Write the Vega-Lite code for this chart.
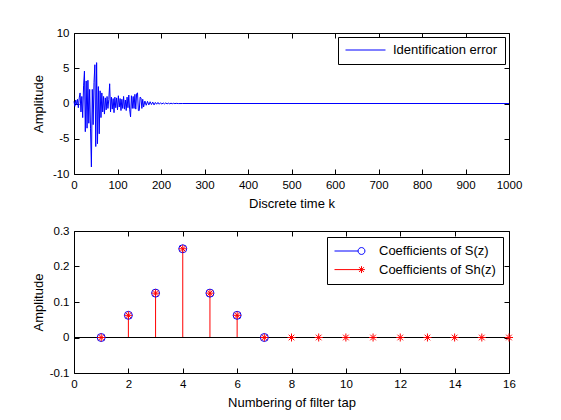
{
  "$schema": "https://vega.github.io/schema/vega-lite/v6.json",
  "background": "white",
  "padding": {"left": 31, "top": 26, "right": 0, "bottom": 0},
  "spacing": 13,
  "resolve": {"scale": {"color": "independent"}, "legend": {"color": "independent"}},
  "config": {
    "font": "Liberation Sans",
    "view": {"stroke": "black", "strokeWidth": 1},
    "axis": {
      "grid": false, "domain": false, "tickColor": "black", "tickSize": -5, "tickWidth": 1, "labelPadding": 10,
      "labelColor": "black", "labelFontSize": 11.5, "labelFont": "Liberation Sans", "labelFlush": false, "labelOverlap": false,
      "titleColor": "black", "titleFontSize": 13, "titleFont": "Liberation Sans", "titleFontWeight": "normal"
    },
    "axisX": {"titleY": 29, "titleBaseline": "middle"},
    "axisY": {"titleX": -36, "titleBaseline": "middle"},
    "legend": {"labelFont": "Liberation Sans", "labelFontSize": 13, "labelColor": "black", "strokeColor": "black", "fillColor": "white", "title": null}
  },
  "vconcat": [
    {
      "width": 435,
      "height": 141,
      "data": {"values": [
        {"k":0,"e":0.3},{"k":2,"e":-0.4},{"k":4,"e":0.5},{"k":6,"e":-0.2},{"k":8,"e":0.6},{"k":10,"e":-0.6},
        {"k":12,"e":0.8},{"k":14,"e":1.5},{"k":16,"e":-1.2},{"k":18,"e":1.0},{"k":20,"e":-2.0},{"k":22,"e":2.5},
        {"k":24,"e":4.6},{"k":26,"e":-4.0},{"k":28,"e":3.2},{"k":30,"e":-3.5},{"k":32,"e":3.3},{"k":34,"e":-2.8},
        {"k":36,"e":2.0},{"k":38,"e":-3.6},{"k":40,"e":-9.0},{"k":42,"e":2.0},{"k":44,"e":-3.0},{"k":46,"e":3.0},
        {"k":48,"e":5.5},{"k":50,"e":-6.1},{"k":52,"e":5.8},{"k":54,"e":-5.7},{"k":56,"e":2.4},{"k":58,"e":-4.3},
        {"k":60,"e":1.8},{"k":62,"e":-2.0},{"k":64,"e":1.5},{"k":66,"e":-1.2},{"k":68,"e":1.0},{"k":70,"e":-1.5},
        {"k":72,"e":0.8},{"k":74,"e":-0.9},{"k":76,"e":1.0},{"k":78,"e":-0.7},{"k":80,"e":0.6},{"k":82,"e":2.8},
        {"k":84,"e":-1.2},{"k":86,"e":0.9},{"k":88,"e":-0.8},{"k":90,"e":0.7},{"k":92,"e":-1.3},{"k":94,"e":0.9},
        {"k":96,"e":-0.6},{"k":98,"e":0.8},{"k":100,"e":-0.9},{"k":102,"e":1.1},{"k":104,"e":-0.5},{"k":106,"e":0.7},
        {"k":108,"e":-1.0},{"k":110,"e":0.6},{"k":112,"e":-0.7},{"k":114,"e":1.0},{"k":116,"e":-0.8},{"k":118,"e":0.5},
        {"k":120,"e":-1.0},{"k":122,"e":0.9},{"k":124,"e":-0.6},{"k":126,"e":1.2},{"k":128,"e":-0.9},{"k":130,"e":-1.9},
        {"k":132,"e":1.1},{"k":134,"e":-0.7},{"k":136,"e":1.0},{"k":138,"e":-0.7},{"k":140,"e":1.3},{"k":142,"e":-0.8},
        {"k":144,"e":1.4},{"k":146,"e":1.5},{"k":148,"e":-1.0},{"k":150,"e":-1.0},{"k":152,"e":0.9},{"k":154,"e":0.8},
        {"k":156,"e":-0.7},{"k":158,"e":0.6},{"k":160,"e":-0.5},{"k":163,"e":0.35},{"k":166,"e":-0.25},{"k":169,"e":0.3},
        {"k":172,"e":-0.2},{"k":175,"e":0.25},{"k":178,"e":-0.15},{"k":181,"e":0.2},{"k":184,"e":-0.2},{"k":187,"e":0.15},
        {"k":190,"e":-0.1},{"k":193,"e":0.15},{"k":196,"e":-0.1},{"k":199,"e":0.1},{"k":202,"e":-0.08},{"k":205,"e":0.08},
        {"k":208,"e":-0.06},{"k":211,"e":0.08},{"k":214,"e":-0.05},{"k":217,"e":0.05},{"k":220,"e":-0.04},{"k":223,"e":0.04},
        {"k":226,"e":-0.03},{"k":229,"e":0.03},{"k":232,"e":-0.02},{"k":235,"e":0.02},{"k":240,"e":-0.01},{"k":250,"e":0},
        {"k":1000,"e":0}
      ]},
      "layer": [
        {
          "mark": {"type": "line", "strokeWidth": 1, "interpolate": "linear"},
          "encoding": {
            "x": {"field": "k", "type": "quantitative", "scale": {"domain": [0, 1000], "nice": false},
                  "axis": {"values": [0,100,200,300,400,500,600,700,800,900,1000], "format": "d", "labelOverlap": false, "title": "Discrete time k"}},
            "y": {"field": "e", "type": "quantitative", "scale": {"domain": [-10, 10], "nice": false},
                  "axis": {"values": [-10,-5,0,5,10], "labelOverlap": false, "title": "Amplitude", "labelExpr": "replace(datum.label, '\u2212', '-')"}},
            "color": {"datum": "Identification error", "type": "nominal",
                      "scale": {"domain": ["Identification error"], "range": ["#0000ff"]},
                      "legend": {"orient": "top-right", "offset": 4, "symbolType": "M-1,0L1,0", "symbolSize": 1600,
                                 "symbolStrokeWidth": 1, "clipHeight": 12, "padding": 7, "labelOffset": 7}}
          }
        },
        {
          "mark": {"type": "point", "opacity": 0},
          "encoding": {
            "x": {"field": "k", "type": "quantitative", "axis": {"orient": "top", "values": [0,100,200,300,400,500,600,700,800,900,1000], "labels": false, "title": null}},
            "y": {"field": "e", "type": "quantitative", "axis": {"orient": "right", "values": [-10,-5,0,5,10], "labels": false, "title": null}}
          }
        }
      ],
      "resolve": {"axis": {"x": "independent", "y": "independent"}}
    },
    {
      "width": 435,
      "height": 142,
      "data": {"values": [
        {"tap":1,"value":0,"series":"Coefficients of S(z)"},
        {"tap":2,"value":0.0625,"series":"Coefficients of S(z)"},
        {"tap":3,"value":0.125,"series":"Coefficients of S(z)"},
        {"tap":4,"value":0.25,"series":"Coefficients of S(z)"},
        {"tap":5,"value":0.125,"series":"Coefficients of S(z)"},
        {"tap":6,"value":0.0625,"series":"Coefficients of S(z)"},
        {"tap":7,"value":0,"series":"Coefficients of S(z)"},
        {"tap":1,"value":0,"series":"Coefficients of Sh(z)"},
        {"tap":2,"value":0.0625,"series":"Coefficients of Sh(z)"},
        {"tap":3,"value":0.125,"series":"Coefficients of Sh(z)"},
        {"tap":4,"value":0.25,"series":"Coefficients of Sh(z)"},
        {"tap":5,"value":0.125,"series":"Coefficients of Sh(z)"},
        {"tap":6,"value":0.0625,"series":"Coefficients of Sh(z)"},
        {"tap":7,"value":0,"series":"Coefficients of Sh(z)"},
        {"tap":8,"value":0,"series":"Coefficients of Sh(z)"},
        {"tap":9,"value":0,"series":"Coefficients of Sh(z)"},
        {"tap":10,"value":0,"series":"Coefficients of Sh(z)"},
        {"tap":11,"value":0,"series":"Coefficients of Sh(z)"},
        {"tap":12,"value":0,"series":"Coefficients of Sh(z)"},
        {"tap":13,"value":0,"series":"Coefficients of Sh(z)"},
        {"tap":14,"value":0,"series":"Coefficients of Sh(z)"},
        {"tap":15,"value":0,"series":"Coefficients of Sh(z)"},
        {"tap":16,"value":0,"series":"Coefficients of Sh(z)"}
      ]},
      "layer": [
        {
          "transform": [{"filter": "datum.series === 'Coefficients of Sh(z)'"}],
          "mark": {"type": "rule", "strokeWidth": 1},
          "encoding": {
            "x": {"field": "tap", "type": "quantitative", "scale": {"domain": [0, 16], "nice": false},
                  "axis": {"values": [0,2,4,6,8,10,12,14,16], "labelOverlap": false, "title": "Numbering of filter tap"}},
            "y": {"field": "value", "type": "quantitative", "scale": {"domain": [-0.1, 0.3], "nice": false, "zero": false},
                  "axis": {"values": [-0.1,0,0.1,0.2,0.3], "labelExpr": "datum.value === 0 ? '0' : replace(format(datum.value, '.1f'), '\u2212', '-')", "labelOverlap": false, "title": "Amplitude"}},
            "y2": {"datum": 0},
            "color": {"field": "series", "type": "nominal",
                      "scale": {"domain": ["Coefficients of S(z)", "Coefficients of Sh(z)"], "range": ["#0000ff", "#ff0000"]},
                      "legend": {"orient": "top-right", "offset": 6, "symbolSize": 900, "symbolStrokeWidth": 1,
                                 "clipHeight": 14, "rowPadding": 4.6, "padding": 7, "labelOffset": 14,
                                 "values": ["Coefficients of S(z)", "Coefficients of Sh(z)"],
                                 "encode": {"symbols": {"update": {"shape": {"signal": "datum.value === 'Coefficients of S(z)' ? 'M-1,0L0.57,0M1.03,0A0.23,0.23 0 1,0 0.57,0A0.23,0.23 0 1,0 1.03,0' : 'M-1,0L0.8,0M0.8,-0.23L0.8,0.23M0.57,0L1.03,0M0.64,-0.16L0.96,0.16M0.64,0.16L0.96,-0.16'"}}}}}}
          }
        },
        {
          "mark": {"type": "rule", "color": "black", "strokeWidth": 1},
          "encoding": {"y": {"datum": 0, "type": "quantitative", "axis": null}}
        },
        {
          "transform": [{"filter": "datum.series === 'Coefficients of S(z)'"}],
          "mark": {"type": "point", "shape": "circle", "filled": false, "stroke": "#0000ff", "strokeWidth": 1, "size": 64, "opacity": 1},
          "encoding": {
            "x": {"field": "tap", "type": "quantitative", "axis": null},
            "y": {"field": "value", "type": "quantitative", "axis": null}
          }
        },
        {
          "transform": [{"filter": "datum.series === 'Coefficients of Sh(z)'"}],
          "mark": {"type": "point", "shape": "M0,-1L0,1M-1,0L1,0M-0.7,-0.7L0.7,0.7M-0.7,0.7L0.7,-0.7", "filled": false, "stroke": "#ff0000", "strokeWidth": 1, "size": 64, "opacity": 1},
          "encoding": {
            "x": {"field": "tap", "type": "quantitative", "axis": null},
            "y": {"field": "value", "type": "quantitative", "axis": null}
          }
        },
        {
          "mark": {"type": "point", "opacity": 0},
          "encoding": {
            "x": {"field": "tap", "type": "quantitative", "axis": {"orient": "top", "values": [0,2,4,6,8,10,12,14,16], "labels": false, "title": null}},
            "y": {"field": "value", "type": "quantitative", "axis": {"orient": "right", "values": [-0.1,0,0.1,0.2,0.3], "labels": false, "title": null}}
          }
        }
      ],
      "resolve": {"axis": {"x": "independent", "y": "independent"}}
    }
  ]
}
